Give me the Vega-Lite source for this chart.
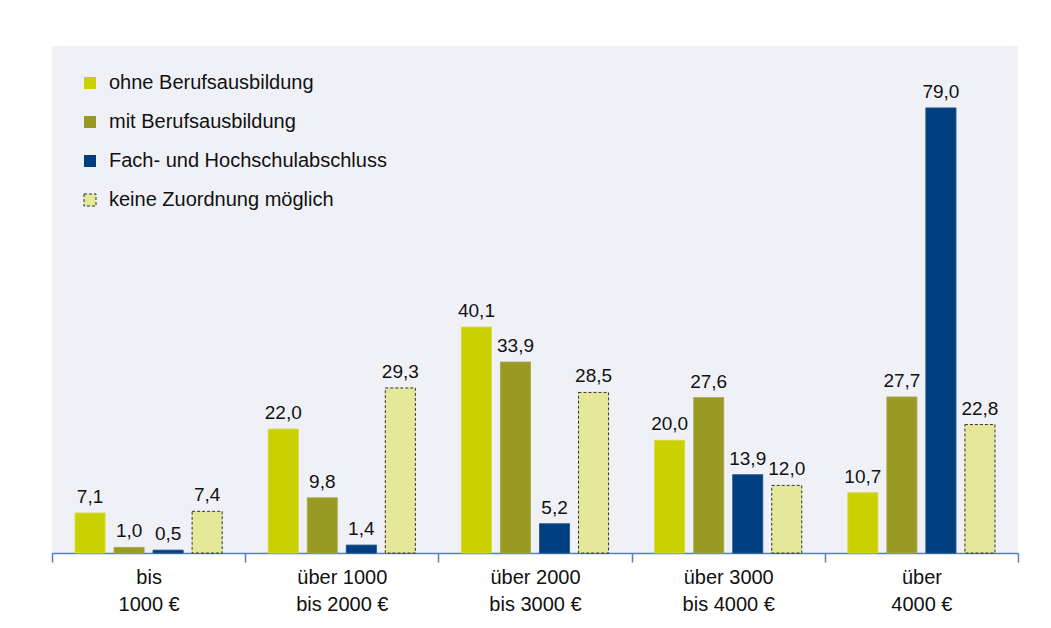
{
  "$schema": "https://vega.github.io/schema/vega-lite/v6.json",
  "width": 966,
  "height": 507,
  "padding": {"left": 51, "top": 46, "right": 20, "bottom": 10},
  "background": "white",
  "data": {
    "values": [
      {"group": "bis|1000 €", "series": "ohne Berufsausbildung", "value": 7.1, "label": "7,1"},
      {"group": "bis|1000 €", "series": "mit Berufsausbildung", "value": 1.0, "label": "1,0"},
      {"group": "bis|1000 €", "series": "Fach- und Hochschulabschluss", "value": 0.5, "label": "0,5"},
      {"group": "bis|1000 €", "series": "keine Zuordnung möglich", "value": 7.4, "label": "7,4"},
      {"group": "über 1000|bis 2000 €", "series": "ohne Berufsausbildung", "value": 22.0, "label": "22,0"},
      {"group": "über 1000|bis 2000 €", "series": "mit Berufsausbildung", "value": 9.8, "label": "9,8"},
      {"group": "über 1000|bis 2000 €", "series": "Fach- und Hochschulabschluss", "value": 1.4, "label": "1,4"},
      {"group": "über 1000|bis 2000 €", "series": "keine Zuordnung möglich", "value": 29.3, "label": "29,3"},
      {"group": "über 2000|bis 3000 €", "series": "ohne Berufsausbildung", "value": 40.1, "label": "40,1"},
      {"group": "über 2000|bis 3000 €", "series": "mit Berufsausbildung", "value": 33.9, "label": "33,9"},
      {"group": "über 2000|bis 3000 €", "series": "Fach- und Hochschulabschluss", "value": 5.2, "label": "5,2"},
      {"group": "über 2000|bis 3000 €", "series": "keine Zuordnung möglich", "value": 28.5, "label": "28,5"},
      {"group": "über 3000|bis 4000 €", "series": "ohne Berufsausbildung", "value": 20.0, "label": "20,0"},
      {"group": "über 3000|bis 4000 €", "series": "mit Berufsausbildung", "value": 27.6, "label": "27,6"},
      {"group": "über 3000|bis 4000 €", "series": "Fach- und Hochschulabschluss", "value": 13.9, "label": "13,9"},
      {"group": "über 3000|bis 4000 €", "series": "keine Zuordnung möglich", "value": 12.0, "label": "12,0"},
      {"group": "über|4000 €", "series": "ohne Berufsausbildung", "value": 10.7, "label": "10,7"},
      {"group": "über|4000 €", "series": "mit Berufsausbildung", "value": 27.7, "label": "27,7"},
      {"group": "über|4000 €", "series": "Fach- und Hochschulabschluss", "value": 79.0, "label": "79,0"},
      {"group": "über|4000 €", "series": "keine Zuordnung möglich", "value": 22.8, "label": "22,8"}
    ]
  },
  "encoding": {
    "x": {
      "field": "group",
      "type": "nominal",
      "sort": ["bis|1000 €", "über 1000|bis 2000 €", "über 2000|bis 3000 €", "über 3000|bis 4000 €", "über|4000 €"],
      "scale": {"paddingInner": 0, "paddingOuter": 0},
      "axis": {
        "title": null,
        "labelAngle": 0,
        "labelExpr": "split(datum.label, '|')",
        "tickBand": "extent",
        "ticks": true,
        "tickSize": 9,
        "tickColor": "#5a7fbd",
        "tickWidth": 1.5,
        "domainColor": "#5a7fbd",
        "domainWidth": 1.5,
        "labelFont": "Liberation Sans",
        "labelFontSize": 20,
        "labelColor": "#111111",
        "labelLineHeight": 27,
        "labelPadding": 5,
        "grid": false
      }
    },
    "xOffset": {
      "field": "series",
      "type": "nominal",
      "sort": ["ohne Berufsausbildung", "mit Berufsausbildung", "Fach- und Hochschulabschluss", "keine Zuordnung möglich"],
      "scale": {"paddingInner": 0.23, "paddingOuter": 0.59}
    },
    "y": {
      "field": "value",
      "type": "quantitative",
      "scale": {"domain": [0, 90], "nice": false},
      "axis": null
    }
  },
  "layer": [
    {
      "mark": {"type": "bar", "strokeWidth": 1},
      "encoding": {
        "fill": {
          "field": "series",
          "type": "nominal",
          "sort": ["ohne Berufsausbildung", "mit Berufsausbildung", "Fach- und Hochschulabschluss", "keine Zuordnung möglich"],
          "scale": {"range": ["#cbd000", "#999a22", "#003f7f", "#e5e799"]},
          "legend": {
            "title": null,
            "orient": "none",
            "legendX": 28,
            "legendY": 27,
            "labelFont": "Liberation Sans",
            "labelFontSize": 20,
            "labelColor": "#111111",
            "labelLimit": 500,
            "symbolType": "square",
            "symbolSize": 144,
            "rowPadding": 19,
            "labelOffset": 9,
            "symbolStrokeWidth": 1,
            "encode": {
              "symbols": {
                "update": {
                  "stroke": {"signal": "datum.value === 'keine Zuordnung möglich' ? '#333333' : 'transparent'"},
                  "strokeDash": {"signal": "datum.value === 'keine Zuordnung möglich' ? [3, 2] : [1, 0]"},
                  "strokeWidth": {"value": 1}
                }
              }
            }
          }
        },
        "stroke": {
          "field": "series",
          "type": "nominal",
          "sort": ["ohne Berufsausbildung", "mit Berufsausbildung", "Fach- und Hochschulabschluss", "keine Zuordnung möglich"],
          "scale": {"range": ["#d6da40", "#a9aa50", "#1a4f88", "#333333"]},
          "legend": null
        },
        "strokeDash": {
          "field": "series",
          "type": "nominal",
          "sort": ["ohne Berufsausbildung", "mit Berufsausbildung", "Fach- und Hochschulabschluss", "keine Zuordnung möglich"],
          "scale": {"range": [[1, 0], [1, 0], [1, 0], [3, 2]]},
          "legend": null
        }
      }
    },
    {
      "mark": {"type": "text", "baseline": "bottom", "dy": -6, "font": "Liberation Sans", "fontSize": 19, "color": "#111111"},
      "encoding": {
        "text": {"field": "label", "type": "nominal"}
      }
    }
  ],
  "config": {
    "view": {"fill": "#f0f1f7", "stroke": null}
  }
}
